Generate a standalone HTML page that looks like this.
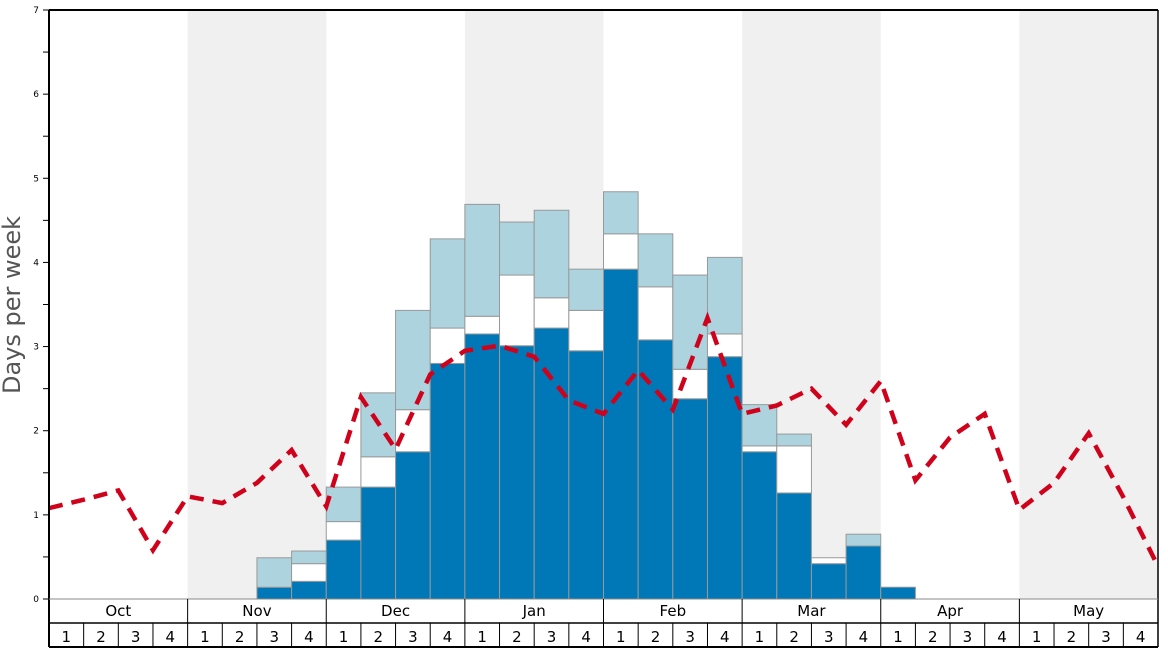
<!DOCTYPE html>
<html><head><meta charset="utf-8"><style>
html,body{margin:0;padding:0;background:#fff;}
svg{display:block;font-family:"DejaVu Sans","Liberation Sans",sans-serif;}
</style></head><body>
<svg id="chart" width="1168" height="648" viewBox="0 0 1168 648" xmlns="http://www.w3.org/2000/svg">
<g id="bg"></g>
<g id="bars"></g>
<g id="line"></g>
<g id="axis"></g>
<text transform="translate(20,305) rotate(-90)" text-anchor="middle" font-size="24" fill="#555">Days per week</text>
</svg>
<script>
const months=["Oct","Nov","Dec","Jan","Feb","Mar","Apr","May"];
const yTicks=[0,1,2,3,4,5,6,7];
const darkVals=[0,0,0,0,0,0,0.14,0.21,0.70,1.33,1.75,2.80,3.15,3.01,3.22,2.95,3.92,3.08,2.38,2.88,1.75,1.26,0.42,0.63,0.14,0,0,0,0,0,0,0];
const whiteTop=[0,0,0,0,0,0,0.14,0.42,0.92,1.69,2.25,3.22,3.36,3.85,3.58,3.43,4.34,3.71,2.73,3.15,1.82,1.82,0.49,0.63,0.14,0,0,0,0,0,0,0];
const totalVals=[0,0,0,0,0,0,0.49,0.57,1.33,2.45,3.43,4.28,4.69,4.48,4.62,3.92,4.84,4.34,3.85,4.06,2.31,1.96,0.49,0.77,0.14,0,0,0,0,0,0,0];
const avgLine=[1.08,1.18,1.29,0.58,1.22,1.14,1.38,1.77,1.10,2.40,1.78,2.67,2.95,3.01,2.88,2.36,2.20,2.72,2.25,3.34,2.20,2.30,2.50,2.07,2.59,1.41,1.92,2.20,1.06,1.38,1.97,1.21,0.39];
const NS='http://www.w3.org/2000/svg';
const X0=49,X1=1158,Y0=599,YT=10,N=32,W=(X1-X0)/N;
const x=i=>X0+i*W;
const y=v=>Y0-(Y0-YT)*v/7;
function mk(tag,attrs,parent){const e=document.createElementNS(NS,tag);for(const k in attrs)e.setAttribute(k,attrs[k]);parent.appendChild(e);return e;}
const bg=document.getElementById('bg'),bars=document.getElementById('bars'),line=document.getElementById('line'),axis=document.getElementById('axis');
months.forEach((m,i)=>{if(i%2===1){const r=mk('rect',{x:x(i*4),y:YT,width:W*4,height:Y0-YT,fill:'#f0f0f0'},bg);

}});
for(let i=0;i<N;i++){
  const segs=[[0,darkVals[i],'#0077b6'],[darkVals[i],whiteTop[i],'#ffffff'],[whiteTop[i],totalVals[i],'#add3df']];
  segs.forEach((s,j)=>{if(s[1]>s[0]){const r=mk('rect',{x:x(i),y:y(s[1]),width:W,height:y(s[0])-y(s[1]),fill:s[2],stroke:'#999','stroke-width':1},bars);
  
  }});
}
const pl=mk('polyline',{points:avgLine.map((v,i)=>x(i)+','+y(v)).join(' '),fill:'none',stroke:'#d0021b','stroke-width':4.5,'stroke-dasharray':'14,9'},line);


mk('line',{x1:X0,y1:YT,x2:X1,y2:YT,stroke:'#000','stroke-width':2},axis);
mk('line',{x1:X0,y1:YT,x2:X0,y2:647,stroke:'#000','stroke-width':2},axis);
mk('line',{x1:X1,y1:YT,x2:X1,y2:647,stroke:'#000','stroke-width':1.5},axis);
mk('line',{x1:X0,y1:Y0,x2:X1,y2:Y0,stroke:'#888','stroke-width':1},axis);
mk('line',{x1:X0,y1:623,x2:X1,y2:623,stroke:'#000','stroke-width':1.5},axis);
mk('line',{x1:X0,y1:647,x2:X1,y2:647,stroke:'#000','stroke-width':2},axis);
for(let k=0;k<=14;k++){const v=k/2;mk('line',{x1:X0-6,y1:y(v),x2:X0,y2:y(v),stroke:'#000','stroke-width':1},axis);}
yTicks.forEach(v=>{const t=mk('text',{x:X0-10,y:y(v)+3,'text-anchor':'end','font-size':9,fill:'#000'},axis);t.textContent=v;

});
months.forEach((m,i)=>{
  if(i>0)mk('line',{x1:x(i*4),y1:Y0,x2:x(i*4),y2:647,stroke:'#000','stroke-width':1},axis);
  const t=mk('text',{x:x(i*4+2),y:616,'text-anchor':'middle','font-size':15,fill:'#000'},axis);t.textContent=m;
  
  
});
for(let i=0;i<N;i++){
  if(i%4)mk('line',{x1:x(i),y1:623,x2:x(i),y2:647,stroke:'#000','stroke-width':1},axis);
  const t=mk('text',{x:x(i)+W/2,y:642,'text-anchor':'middle','font-size':15,fill:'#000'},axis);t.textContent=(i%4)+1;
  
  
}
</script>
</body></html>
